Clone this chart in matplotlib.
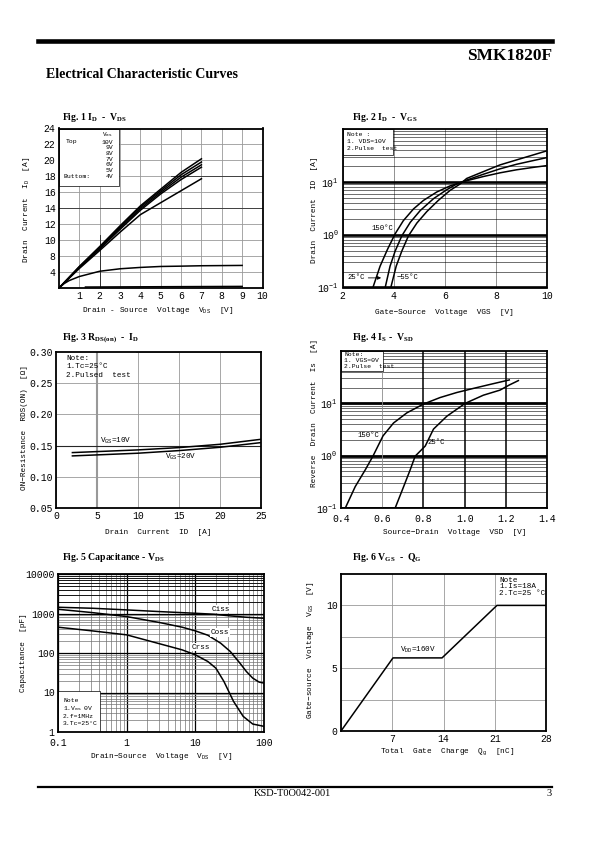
import matplotlib
matplotlib.use('Agg')
import matplotlib.pyplot as plt
from matplotlib.lines import Line2D
from matplotlib.patches import Rectangle
from matplotlib.ticker import LogLocator, NullFormatter

MONO = ['Liberation Mono', 'DejaVu Sans Mono', 'DejaVu Sans']
SERIF = ['Liberation Serif', 'DejaVu Serif']
plt.rcParams['font.family'] = MONO
plt.rcParams['mathtext.fontset'] = 'custom'
plt.rcParams['mathtext.rm'] = 'Liberation Mono'
plt.rcParams['mathtext.it'] = 'Liberation Mono'
plt.rcParams['mathtext.bf'] = 'Liberation Serif:bold'
plt.rcParams['mathtext.default'] = 'rm'

# ---- Fig 1  ID - VDS (y axis in the sheet's own, oddly labelled units)
f1_vds = [0, 1, 2, 3, 4, 5, 6, 7]
f1_id_10v = [4.0, 6.7, 9.2, 11.8, 14.3, 16.4, 18.5, 20.2]
f1_id_9v = [4.0, 6.65, 9.1, 11.65, 14.15, 16.2, 18.2, 19.8]
f1_id_8v = [4.0, 6.6, 9.0, 11.5, 13.95, 16.0, 17.9, 19.45]
f1_id_7v = [4.0, 6.55, 8.9, 11.35, 13.75, 15.8, 17.6, 19.15]
f1_id_6v = [4.0, 6.45, 8.7, 11.0, 13.2, 14.7, 16.2, 17.7]
f1_vds_5v = [0, 0.25, 0.5, 1, 2, 3, 4, 5, 6, 7, 9]
f1_id_5v = [4.0, 4.55, 4.93, 5.44, 6.1, 6.41, 6.58, 6.7, 6.74, 6.79, 6.83]
f1_vds_4v = [1.3, 3, 5, 7, 9]
f1_id_4v = [4.12, 4.14, 4.16, 4.18, 4.2]
f1_xticks = [1, 2, 3, 4, 5, 6, 7, 8, 9, 10]
f1_ytick_pos = [6, 8, 10, 12, 14, 16, 18, 20, 22, 24]
f1_ytick_lab = ['4', '8', '10', '12', '14', '16', '18', '20', '22', '24']
f1_legend = ['10V', '9V', '8V', '7V', '6V', '5V', '4V']

# ---- Fig 2  ID - VGS
f2_vgs_150 = [3.19, 3.47, 3.76, 4.06, 4.38, 4.78, 5.17, 5.69, 6.21, 6.86, 7.51, 8.16, 8.81, 9.47, 10.0]
f2_id_150 = [0.1, 0.253, 0.527, 1.04, 1.84, 3.08, 4.46, 6.43, 8.38, 10.5, 12.6, 14.8, 16.9, 18.8, 20.3]
f2_vgs_25 = [3.67, 3.86, 4.06, 4.32, 4.65, 5.04, 5.56, 6.08, 6.47, 6.86, 7.51, 8.16, 8.81, 9.47, 10.0]
f2_id_25 = [0.1, 0.253, 0.489, 0.95, 1.71, 2.86, 4.8, 7.1, 9.1, 10.8, 13.9, 17.6, 21.5, 25.3, 28.8]
f2_vgs_m55 = [3.89, 4.10, 4.32, 4.58, 4.91, 5.30, 5.75, 6.21, 6.60, 6.86, 7.51, 8.16, 8.81, 9.47, 10.0]
f2_id_m55 = [0.1, 0.253, 0.489, 0.95, 1.66, 2.74, 4.46, 6.9, 9.1, 11.6, 15.6, 20.9, 26.0, 32.4, 38.7]
f2_xticks = [2, 4, 6, 8, 10]

# ---- Fig 3  RDS(on) - ID
f3_id = [2, 5, 10, 15, 20, 25]
f3_r_10v = [0.1388, 0.1404, 0.1431, 0.1468, 0.1521, 0.1601]
f3_r_20v = [0.1335, 0.1351, 0.1378, 0.1420, 0.1473, 0.1548]
f3_xticks = [0, 5, 10, 15, 20, 25]
f3_yticks = [0.05, 0.10, 0.15, 0.20, 0.25, 0.30]

# ---- Fig 4  IS - VSD
f4_vsd_150 = [0.421, 0.469, 0.518, 0.555, 0.604, 0.655, 0.720, 0.801, 0.881, 0.962, 1.043, 1.124, 1.217]
f4_is_150 = [0.1, 0.256, 0.538, 0.978, 2.39, 4.21, 6.59, 9.71, 12.9, 16.1, 19.3, 23.0, 28.0]
f4_vsd_25 = [0.663, 0.704, 0.736, 0.760, 0.809, 0.849, 0.914, 1.003, 1.091, 1.172, 1.217, 1.261]
f4_is_25 = [0.1, 0.256, 0.538, 0.978, 1.53, 3.22, 5.68, 10.0, 14.3, 17.9, 22.4, 27.2]
f4_xticks = [0.4, 0.6, 0.8, 1.0, 1.2, 1.4]

# ---- Fig 5  Capacitance - VDS
f5_v_iss = [0.1, 0.316, 1.0, 3.03, 10.0, 18.9, 32.3, 55.3, 100]
f5_ciss = [1439, 1358, 1233, 1117, 1014, 957, 869, 804, 758]
f5_v_oss = [0.1, 0.316, 1.0, 3.03, 6.43, 10.0, 15.2, 23.4, 32.3, 44.6, 55.3, 68.6, 85.1, 100]
f5_coss = [1280, 1054, 835, 590, 450, 363, 282, 177, 109, 55.4, 34.1, 23.1, 18.3, 17.3]
f5_v_rss = [0.1, 0.316, 1.0, 3.03, 6.43, 10.0, 15.2, 19.9, 26.1, 36.0, 49.7, 68.6, 100]
f5_crss = [450, 363, 288, 171, 120, 89.9, 61.0, 41.4, 19.0, 5.96, 2.49, 1.59, 1.39]
f5_xticks = [0.1, 1, 10, 100]
f5_yticks = [1, 10, 100, 1000, 10000]

# ---- Fig 6  VGS - QG
f6_qg = [0, 7.1, 13.8, 21.3, 28]
f6_vgs = [0, 5.82, 5.82, 10.0, 10.0]
f6_xticks = [7, 14, 21, 28]
f6_yticks = [0, 5, 10]

W, H = 595, 842
fig = plt.figure(figsize=(W / 100, H / 100), dpi=100)


def add_box(l, r, t, b, xpad=2.5):
    ax = fig.add_axes([l / W, 1 - b / H, (r - l) / W, (b - t) / H])
    for s in ax.spines.values():
        s.set_linewidth(1.3)
    ax.tick_params(which='both', length=0, labelsize=7, pad=2.5)
    ax.tick_params(axis='x', which='both', pad=xpad)
    ax.set_axisbelow(True)
    return ax


def txt(x, y, s, **kw):
    kw.setdefault('va', 'center')
    kw.setdefault('size', 5.5)
    fig.text(x / W, 1 - y / H, s, **kw)


def title(x, y, s):
    txt(x, y, s, family=SERIF, weight='bold', size=7, ha='left')


def white_box(ax, l, r, t, b, edge=True):
    ax.add_patch(Rectangle((l / W, 1 - b / H), (r - l) / W, (b - t) / H,
                           transform=fig.transFigure, fc='white',
                           ec='k' if edge else 'none', lw=0.5, zorder=1))


def hline(x0, x1, y, lw):
    fig.add_artist(Line2D([x0 / W, x1 / W], [1 - y / H, 1 - y / H], lw=lw, color='k'))


# ---- page header / footer
hline(38, 552, 41, 3.3)
txt(552, 56, 'SMK1820F', ha='right', family=SERIF, weight='bold', size=12.5)
txt(46, 75, 'Electrical Characteristic Curves', ha='left', family=SERIF, weight='bold', size=10)
hline(38, 552, 787, 1.6)
txt(292, 794, 'KSD-T0O042-001', ha='center', family=SERIF, size=7.5)
txt(552, 794, '3', ha='right', family=SERIF, size=7.5)

LW = 1.1

# ================= Fig 1
ax1 = add_box(59, 262.5, 128.5, 288)
ax1.set_xlim(0, 10)
ax1.set_ylim(4, 24)
ax1.set_xticks(f1_xticks)
ax1.set_yticks(f1_ytick_pos)
ax1.set_yticklabels(f1_ytick_lab)
ax1.grid(True, color='0.6', lw=0.6)
ax1.axvline(2, 0, 0.33, color='0.2', lw=0.7)
ax1.axhline(14, color='0.25', lw=0.7)
ax1.axhline(18, 0.55, 1, color='0.25', lw=0.7)
for curve in (f1_id_10v, f1_id_9v, f1_id_8v, f1_id_7v, f1_id_6v):
    ax1.plot(f1_vds, curve, color='k', lw=LW)
ax1.plot(f1_vds_5v, f1_id_5v, color='k', lw=LW)
ax1.plot(f1_vds_4v, f1_id_4v, color='k', lw=LW)
white_box(ax1, 59, 118.5, 128.5, 185.5)
title(62, 117, r'Fig. 1 I$_{\mathbf{D}}$  -  V$_{\mathbf{DS}}$')
txt(66, 142, 'Top', size=4.6)
txt(107, 134.5, 'V$_{GS}$', ha='center', size=4.3)
for i, lab in enumerate(f1_legend):
    txt(113, 142 + i * 5.72, lab, ha='right', size=4.6)
txt(64, 176.3, 'Buttom:', size=4.6)
txt(158, 311, 'Drain - Source  Voltage  V$_{DS}$  [V]', ha='center', size=5.6)
txt(27, 210, 'Drain  Current  I$_{D}$  [A]', ha='center', rotation=90, size=5.6)

# ================= Fig 2
ax2 = add_box(342.5, 547, 129, 287.5)
ax2.set_yscale('log')
ax2.set_xlim(2, 10)
ax2.set_ylim(0.1, 100)
ax2.set_xticks(f2_xticks)
ax2.set_yticks([0.1, 1, 10])
ax2.set_yticklabels([r'$10^{-1}$', r'$10^{0}$', r'$10^{1}$'])
ax2.yaxis.set_minor_locator(LogLocator(base=10, subs=range(2, 10), numticks=20))
ax2.yaxis.set_minor_formatter(NullFormatter())
ax2.grid(True, axis='x', color='0.5', lw=0.6)
ax2.grid(True, axis='y', which='major', color='k', lw=1.9)
ax2.grid(True, axis='y', which='minor', color='k', lw=0.4)
ax2.plot(f2_vgs_150, f2_id_150, color='k', lw=LW)
ax2.plot(f2_vgs_25, f2_id_25, color='k', lw=LW)
ax2.plot(f2_vgs_m55, f2_id_m55, color='k', lw=LW)
white_box(ax2, 342.5, 393, 129, 155)
ax2.text(3.15, 1.31, '150°C', size=5.2, va='center', zorder=4,
         bbox=dict(fc='white', ec='none', pad=0.3))
ax2.text(2.2, 0.152, '25°C', size=5.2, va='center', zorder=4,
         bbox=dict(fc='white', ec='none', pad=0.3))
ax2.annotate('', xy=(3.62, 0.152), xytext=(2.9, 0.152),
             arrowprops=dict(arrowstyle='-|>', lw=0.6, color='k', mutation_scale=5))
ax2.text(4.12, 0.152, '−55°C', size=5.2, va='center', zorder=4,
         bbox=dict(fc='white', ec='none', pad=0.3))
title(352, 117, r'Fig. 2 I$_{\mathbf{D}}$  -  V$_{\mathbf{GS}}$')
txt(347, 134, 'Note :', size=4.6)
txt(347, 141.5, '1. VDS=10V', size=4.6)
txt(347, 148, '2.Pulse  test', size=4.6)
txt(444, 312, 'Gate−Source  Voltage  VGS  [V]', ha='center', size=5.6)
txt(315, 210, 'Drain  Current  ID  [A]', ha='center', rotation=90, size=5.6)

# ================= Fig 3
ax3 = add_box(56, 261, 352, 508)
ax3.set_xlim(0, 25)
ax3.set_ylim(0.05, 0.30)
ax3.set_xticks(f3_xticks)
ax3.set_yticks(f3_yticks)
ax3.set_yticklabels(['%.2f' % v for v in f3_yticks])
ax3.grid(True, color='0.6', lw=0.6)
ax3.axvline(5, color='0.6', lw=1.5)
ax3.axhline(0.15, color='0.15', lw=0.8)
ax3.plot(f3_id, f3_r_10v, color='k', lw=LW)
ax3.plot(f3_id, f3_r_20v, color='k', lw=LW)
white_box(ax3, 56, 136, 352, 381, edge=False)
ax3.text(5.4, 0.1574, 'V$_{GS}$=10V', size=5.5, va='center')
ax3.text(13.3, 0.1318, 'V$_{GS}$=20V', size=5.5, va='center')
title(62, 338, r'Fig. 3 R$_{\mathbf{DS(on)}}$  -  I$_{\mathbf{D}}$')
txt(66, 358.5, 'Note:', size=5.5)
txt(66, 366.5, '1.Tc=25°C', size=5.5)
txt(66, 375, '2.Pulsed  test', size=5.5)
txt(158, 532, 'Drain  Current  ID  [A]', ha='center', size=5.6)
txt(25, 428, 'ON−Resistance  RDS(ON)  [Ω]', ha='center', rotation=90, size=5.6)

# ================= Fig 4
ax4 = add_box(341, 547, 351, 508, xpad=4)
ax4.set_yscale('log')
ax4.set_xlim(0.4, 1.4)
ax4.set_ylim(0.1, 100)
ax4.set_xticks(f4_xticks)
ax4.set_xticklabels(['%.1f' % v for v in f4_xticks])
ax4.set_yticks([0.1, 1, 10])
ax4.set_yticklabels([r'$10^{-1}$', r'$10^{0}$', r'$10^{1}$'])
ax4.yaxis.set_minor_locator(LogLocator(base=10, subs=range(2, 10), numticks=20))
ax4.yaxis.set_minor_formatter(NullFormatter())
ax4.grid(True, axis='y', which='major', color='k', lw=2.0)
ax4.grid(True, axis='y', which='minor', color='k', lw=0.4)
for v in f4_xticks[1:-1]:
    ax4.axvline(v, color='0.55' if v < 0.7 else 'k', lw=0.6 if v < 0.7 else 1.1, zorder=0.6)
ax4.plot(f4_vsd_150, f4_is_150, color='k', lw=LW)
ax4.plot(f4_vsd_25, f4_is_25, color='k', lw=LW)
white_box(ax4, 341, 383, 351, 371)
ax4.text(0.48, 2.46, '150°C', size=5.2, va='center')
ax4.text(0.82, 1.77, '25°C', size=5.2, va='center')
title(352, 338, r'Fig. 4 I$_{\mathbf{S}}$ -  V$_{\mathbf{SD}}$')
txt(344, 354.5, 'Note:', size=4.6)
txt(344, 360.5, '1. VGS=0V', size=4.6)
txt(344, 367, '2.Pulse  test', size=4.6)
txt(455, 533, 'Source−Drain  Voltage  VSD  [V]', ha='center', size=5.6)
txt(314, 413, 'Reverse  Drain  Current  Is  [A]', ha='center', rotation=90, size=5.6)

# ================= Fig 5
ax5 = add_box(58, 264, 574, 732, xpad=4.5)
ax5.set_xscale('log')
ax5.set_yscale('log')
ax5.set_xlim(0.1, 100)
ax5.set_ylim(1, 10000)
ax5.set_xticks(f5_xticks)
ax5.set_xticklabels(['0.1', '1', '10', '100'])
ax5.set_yticks(f5_yticks)
ax5.set_yticklabels(['1', '10', '100', '1000', '10000'])
for axis in (ax5.xaxis, ax5.yaxis):
    axis.set_minor_locator(LogLocator(base=10, subs=range(2, 10), numticks=20))
    axis.set_minor_formatter(NullFormatter())
ax5.grid(True, which='major', color='k', lw=0.9)
ax5.grid(True, which='minor', color='0.45', lw=0.5)
for m in range(2, 10):
    ax5.axhline(m * 1000, color='k', lw=0.6, zorder=0.6)
ax5.plot(f5_v_iss, f5_ciss, color='k', lw=LW)
ax5.plot(f5_v_oss, f5_coss, color='k', lw=LW)
ax5.plot(f5_v_rss, f5_crss, color='k', lw=LW)
white_box(ax5, 58, 100, 691, 732)
lab_bg = dict(fc='white', ec='none', pad=0.4)
ax5.text(17.3, 1280, 'Ciss', size=5.5, va='center', bbox=lab_bg, zorder=4)
ax5.text(16.9, 330, 'Coss', size=5.5, va='center', bbox=lab_bg, zorder=4)
ax5.text(8.9, 140, 'Crss', size=5.5, va='center', bbox=lab_bg, zorder=4)
title(62, 558, r'Fig. 5 Capacitance - V$_{\mathbf{DS}}$')
txt(63, 701, 'Note', size=4.6)
txt(63, 708.5, '1.V$_{GS}$ 0V', size=4.6)
txt(63, 716, '2.f=1MHz', size=4.6)
txt(63, 723.5, '3.Tc=25°C', size=4.6)
txt(161, 757, 'Drain−Source  Voltage  V$_{DS}$  [V]', ha='center', size=5.6)
txt(24, 653, 'Capacitance  [pF]', ha='center', rotation=90, size=5.6)

# ================= Fig 6
ax6 = add_box(341, 546, 574, 731)
ax6.set_xlim(0, 28)
ax6.set_ylim(0, 12.5)
ax6.set_xticks(f6_xticks)
ax6.set_xticks([0], minor=True)
ax6.set_yticks(f6_yticks)
ax6.set_yticks([2.5, 7.5], minor=True)
ax6.grid(True, which='both', color='0.6', lw=0.6)
ax6.plot(f6_qg, f6_vgs, color='k', lw=LW)
ax6.text(8.1, 6.45, 'V$_{DD}$=160V', size=5.5, va='center')
title(352, 558, r'Fig. 6 V$_{\mathbf{GS}}$  -  Q$_{\mathbf{G}}$')
txt(499, 580, 'Note', size=5.5)
txt(499, 586.7, '1.Is=18A', size=5.5)
txt(499, 593.3, '2.Tc=25 °C', size=5.5)
txt(447, 752, 'Total  Gate  Charge  Q$_{g}$  [nC]', ha='center', size=5.6)
txt(310, 650, 'Gate−source  Voltage  V$_{GS}$  [V]', ha='center', rotation=90, size=5.6)

fig.savefig('out.png', dpi=100)
